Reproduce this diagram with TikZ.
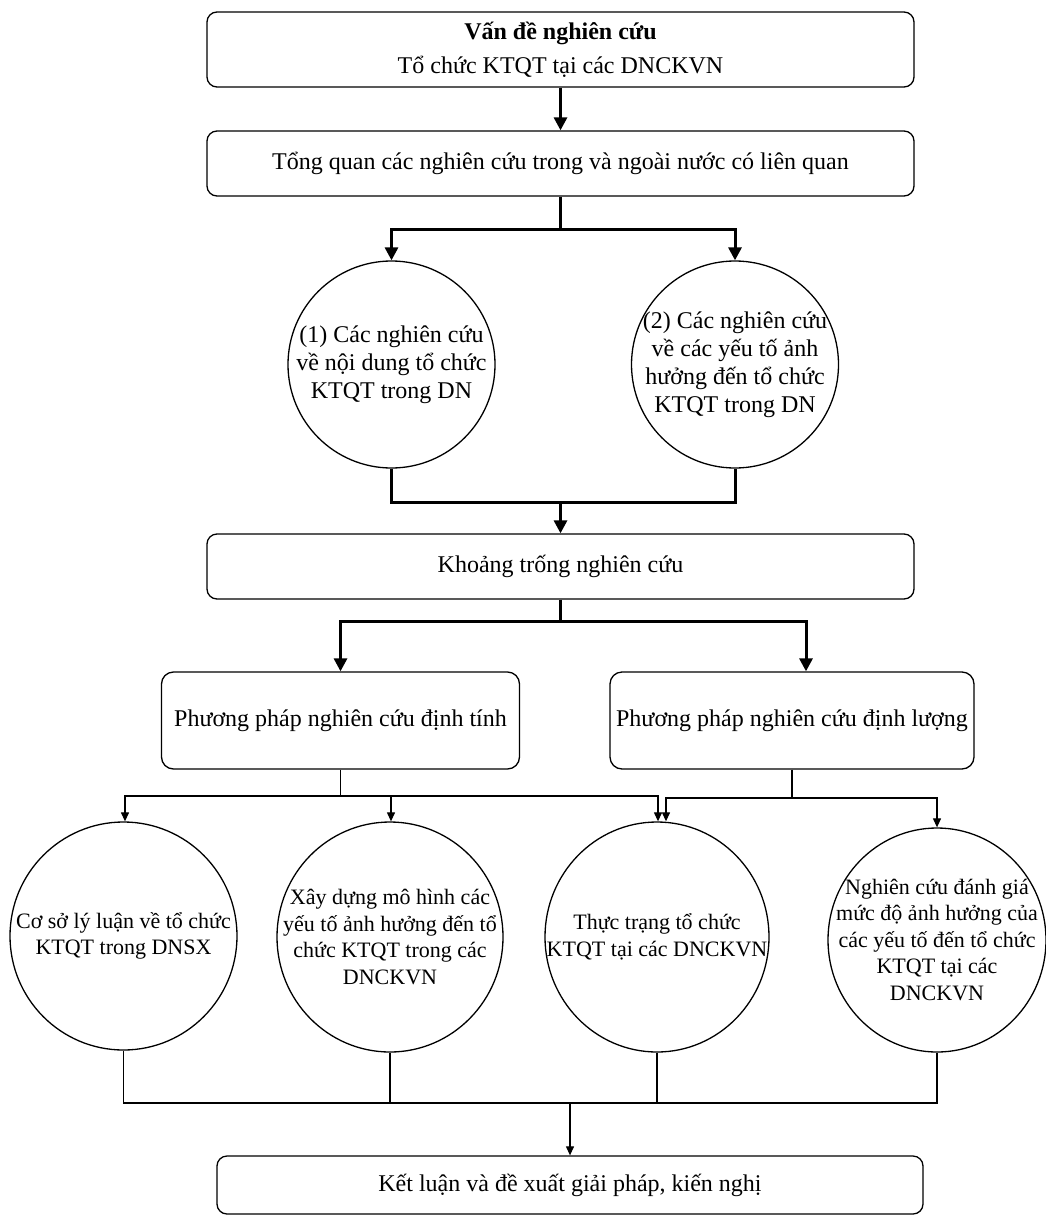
\documentclass[tikz,border=0pt]{standalone}
\usepackage{fontspec}
\setmainfont{Liberation Serif}
\usetikzlibrary{arrows.meta,shapes.geometric}
\begin{document}
\begin{tikzpicture}[x=1pt,y=-1pt,
  box/.style={draw, line width=1.3pt, rounded corners=10pt, inner sep=0pt,
    align=center, font=\fontsize{24}{28}\selectfont},
  topic/.style={draw, line width=1.3pt, circle, inner sep=-30pt,
    align=center, font=\fontsize{24}{28}\selectfont},
  task/.style={draw, line width=1.3pt, ellipse, inner sep=-40pt,
    align=center, font=\fontsize{22}{26.5}\selectfont},
  bold link/.style={line width=3pt},
  bold arrow/.style={line width=3pt, -{Triangle[length=13pt,width=13pt]}},
  thin link/.style={line width=1.2pt},
  thin arrow/.style={line width=1.2pt, -{Triangle[length=9pt,width=8pt]}},
]
\useasboundingbox (0,0) rectangle (1046,1215);

% boxes and bubbles
\node[box, minimum width=707pt, minimum height=75pt] (problem) at (560.5,49.5)
  {\textbf{Vấn đề nghiên cứu}\\[6pt]Tổ chức KTQT tại các DNCKVN};
\node[box, minimum width=707pt, minimum height=65pt] (review) at (560.5,163.5)
  {Tổng quan các nghiên cứu trong và ngoài nước có liên quan};
\node[topic, minimum size=207pt] (content) at (391.5,364.5)
  {(1) Các nghiên cứu\\về nội dung tổ chức\\KTQT trong DN};
\node[topic, minimum size=207pt] (factors) at (735,364.5)
  {(2) Các nghiên cứu\\về các yếu tố ảnh\\hưởng đến tổ chức\\KTQT trong DN};
\node[box, minimum width=707pt, minimum height=65pt] (gap) at (560.5,566.5)
  {Khoảng trống nghiên cứu};
\node[box, rounded corners=12pt, minimum width=358pt, minimum height=97pt] (qual) at (340.5,720.5)
  {Phương pháp nghiên cứu định tính};
\node[box, rounded corners=12pt, minimum width=364pt, minimum height=97pt] (quant) at (792,720.5)
  {Phương pháp nghiên cứu định lượng};
\node[task, minimum width=227pt, minimum height=228pt] (theory) at (123.5,936)
  {Cơ sở lý luận về tổ chức\\KTQT trong DNSX};
\node[task, minimum width=226pt, minimum height=230pt] (model) at (390,937)
  {Xây dựng mô hình các\\yếu tố ảnh hưởng đến tổ\\chức KTQT trong các\\DNCKVN};
\node[task, minimum width=224pt, minimum height=230pt] (status) at (657,937)
  {Thực trạng tổ chức\\KTQT tại các DNCKVN};
\node[task, minimum width=218pt, minimum height=224pt] (impact) at (937,940)
  {Nghiên cứu đánh giá\\mức độ ảnh hưởng của\\các yếu tố đến tổ chức\\KTQT tại các\\DNCKVN};
\node[box, minimum width=706pt, minimum height=58pt] (conclude) at (570,1185)
  {Kết luận và đề xuất giải pháp, kiến nghị};

% upper flow (heavy lines)
\draw[bold arrow] (problem) -- (review);
\coordinate (split1) at (560.5,229);
\draw[bold link] (review.south) -- (split1);
\draw[bold arrow] (split1) -| (content.north);
\draw[bold arrow] (split1) -| (factors.north);
\coordinate (merge1) at (560.5,502);
\draw[bold link] (content.south) |- (merge1) -| (factors.south);
\draw[bold arrow] (merge1) -- (gap.north);
\coordinate (split2) at (560.5,621);
\draw[bold link] (gap.south) -- (split2);
\draw[bold arrow] (split2) -| (qual.north);
\draw[bold arrow] (split2) -| ([xshift=14pt]quant.north);

% lower flow (light lines)
\coordinate (split3) at (340.5,796);
\draw[thin link] (qual.south) -- (split3);
\draw[thin arrow] (split3) -| ([xshift=1.5pt]theory.north);
\draw[thin arrow] (split3) -| ([xshift=1pt]model.north);
\draw[thin arrow] (split3) -| ([xshift=1pt]status.north);
\coordinate (split4) at (792,798);
\draw[thin link] (quant.south) -- (split4);
\draw[thin arrow] (split4) -| ([xshift=9pt]status.north);
\draw[thin arrow] (split4) -| (impact.north);

\coordinate (merge2) at (570,1103);
\draw[thin link, line width=1.6pt] (theory.south) |- (merge2) -| (impact.south);
\draw[thin link] (model.south) -- (model.south |- merge2);
\draw[thin link] (status.south) -- (status.south |- merge2);
\draw[thin arrow] (merge2) -- (conclude.north);
\end{tikzpicture}
\end{document}
